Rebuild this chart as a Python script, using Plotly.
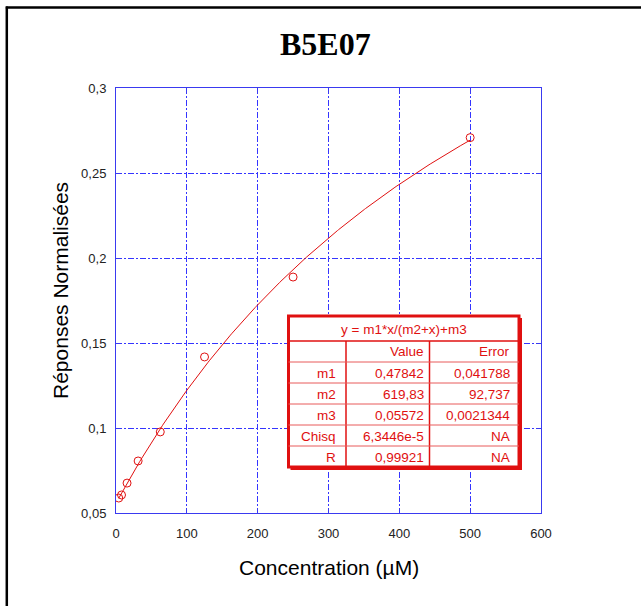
import numpy as np
import plotly.graph_objects as go

# ---- data ----
concentration = [3.9, 7.8, 15.6, 31.25, 62.5, 125, 250, 500]
reponses = [0.0588, 0.0606, 0.0676, 0.0806, 0.0977, 0.1418, 0.1888, 0.2708]

m1, m2, m3 = 0.47842, 619.83, 0.05572
fit_equation = "y = m1*x/(m2+x)+m3"
table_header = ["", "Value", "Error"]
table_names = ["m1", "m2", "m3", "Chisq", "R"]
table_values = ["0,47842", "619,83", "0,05572", "6,3446e-5", "0,99921"]
table_errors = ["0,041788", "92,737", "0,0021344", "NA", "NA"]

x_tickvals = [0, 100, 200, 300, 400, 500, 600]
x_ticktext = ["0", "100", "200", "300", "400", "500", "600"]
y_tickvals = [0.05, 0.1, 0.15, 0.2, 0.25, 0.3]
y_ticktext = ["0,05", "0,1", "0,15", "0,2", "0,25", "0,3"]

title_text = "B5E07"
x_title = "Concentration (µM)"
y_title = "Réponses Normalisées"

# ---- figure geometry (pixels) ----
W, H = 641, 606
L, R, T, B = 116.0, 541.0, 88.0, 513.0


def fx(px):
    return (px - L) / (R - L)


def fy(py):
    return (B - py) / (B - T)


RED = "#e01010"
BLUE = "#3a3af0"

fit_x = np.linspace(min(concentration), max(concentration), 300)
fit_y = m1 * fit_x / (m2 + fit_x) + m3

fig = go.Figure()
fig.add_trace(go.Scatter(x=fit_x, y=fit_y, mode="lines",
                         line=dict(color=RED, width=1), hoverinfo="skip"))
fig.add_trace(go.Scatter(x=concentration, y=reponses, mode="markers",
                         marker=dict(symbol="circle-open", size=8,
                                     color=RED, line=dict(width=1, color=RED))))

axis_common = dict(
    showline=True, linecolor=BLUE, linewidth=1, mirror="ticks",
    ticks="inside", ticklen=5, tickcolor=BLUE, tickwidth=1,
    showgrid=True, gridcolor="#3535ff", gridwidth=1, griddash="6px,2px,2px,2px",
    zeroline=False,
    tickfont=dict(family="Liberation Sans, Arial", size=13, color="#222222"),
)

fig.update_layout(
    width=W, height=H, autosize=False,
    margin=dict(l=L, r=W - R, t=T, b=H - B, pad=0),
    paper_bgcolor="white", plot_bgcolor="white",
    showlegend=False,
    xaxis=dict(range=[0, 600], tickvals=x_tickvals, ticktext=x_ticktext,
               ticklabelstandoff=8, **axis_common),
    yaxis=dict(range=[0.05, 0.3], tickvals=y_tickvals, ticktext=y_ticktext,
               ticklabelstandoff=6, **axis_common),
)

shapes = []
annotations = []

# page frame lines
shapes.append(dict(type="line", xref="paper", yref="paper",
                   x0=fx(5.8), x1=fx(641), y0=fy(7.5), y1=fy(7.5),
                   line=dict(color="black", width=2.5)))
shapes.append(dict(type="line", xref="paper", yref="paper",
                   x0=fx(6.8), x1=fx(6.8), y0=fy(6.5), y1=fy(606),
                   line=dict(color="black", width=2.5)))

# title and axis titles
annotations.append(dict(text="<b>" + title_text + "</b>", xref="paper", yref="paper",
                        x=fx(325), y=fy(44), xanchor="center", yanchor="middle",
                        showarrow=False,
                        font=dict(family="Liberation Serif, Times New Roman", size=32,
                                  color="black")))
annotations.append(dict(text=x_title, xref="paper", yref="paper",
                        x=fx(329), y=fy(567), xanchor="center", yanchor="middle",
                        showarrow=False,
                        font=dict(family="Liberation Sans, Arial", size=21, color="black")))
annotations.append(dict(text=y_title, xref="paper", yref="paper",
                        x=fx(60), y=fy(290), xanchor="center", yanchor="middle",
                        textangle=-90, showarrow=False,
                        font=dict(family="Liberation Sans, Arial", size=21, color="black")))

# ---- parameter table ----
tl, tr, tt, tb = 288.5, 519.0, 316.0, 467.0
hdr = 341.0
col1, col2 = 346.0, 429.5
nrows = 1 + len(table_names)
row_h = (tb - hdr) / nrows
row_lines = [hdr + row_h * i for i in range(1, nrows)]

shapes.append(dict(type="rect", xref="paper", yref="paper",
                   x0=fx(tl), x1=fx(tr), y0=fy(tt), y1=fy(tb),
                   fillcolor="white", line=dict(color=RED, width=3), layer="above"))
# shadow on right/bottom
shapes.append(dict(type="line", xref="paper", yref="paper",
                   x0=fx(tr + 2), x1=fx(tr + 2), y0=fy(tt + 2), y1=fy(tb + 2),
                   line=dict(color=RED, width=2), layer="above"))
shapes.append(dict(type="line", xref="paper", yref="paper",
                   x0=fx(tl + 2), x1=fx(tr + 3), y0=fy(tb + 2), y1=fy(tb + 2),
                   line=dict(color=RED, width=2), layer="above"))
shapes.append(dict(type="line", xref="paper", yref="paper",
                   x0=fx(tl), x1=fx(tr), y0=fy(hdr), y1=fy(hdr),
                   line=dict(color=RED, width=1.5), layer="above"))
for c in (col1, col2):
    shapes.append(dict(type="line", xref="paper", yref="paper",
                       x0=fx(c), x1=fx(c), y0=fy(hdr), y1=fy(tb),
                       line=dict(color=RED, width=1.5), layer="above"))
for rl in row_lines:
    shapes.append(dict(type="line", xref="paper", yref="paper",
                       x0=fx(tl), x1=fx(tr), y0=fy(rl), y1=fy(rl),
                       line=dict(color="#e85a5a", width=1), layer="above"))

tfont = dict(family="Liberation Sans, Arial", size=13.5, color=RED)
annotations.append(dict(text=fit_equation, xref="paper", yref="paper",
                        x=fx((tl + tr) / 2), y=fy((tt + hdr) / 2 + 0.5),
                        xanchor="center", yanchor="middle", showarrow=False, font=tfont))

col_right = [337.5, 425.5, 511.5]
rows = [table_header] + [[n, v, e] for n, v, e in zip(table_names, table_values, table_errors)]
for i, row in enumerate(rows):
    yc = hdr + row_h * (i + 0.5) + 0.5
    for j, txt in enumerate(row):
        if not txt:
            continue
        annotations.append(dict(text=txt, xref="paper", yref="paper",
                                x=fx(col_right[j]), y=fy(yc),
                                xanchor="right", yanchor="middle", showarrow=False,
                                font=tfont))

fig.update_layout(shapes=shapes, annotations=annotations)
fig.write_html(
    "out.html",
    config={"displayModeBar": False},
    post_script="document.body.style.margin='0';document.body.style.padding='0';"
                "document.documentElement.style.overflow='hidden';",
)
